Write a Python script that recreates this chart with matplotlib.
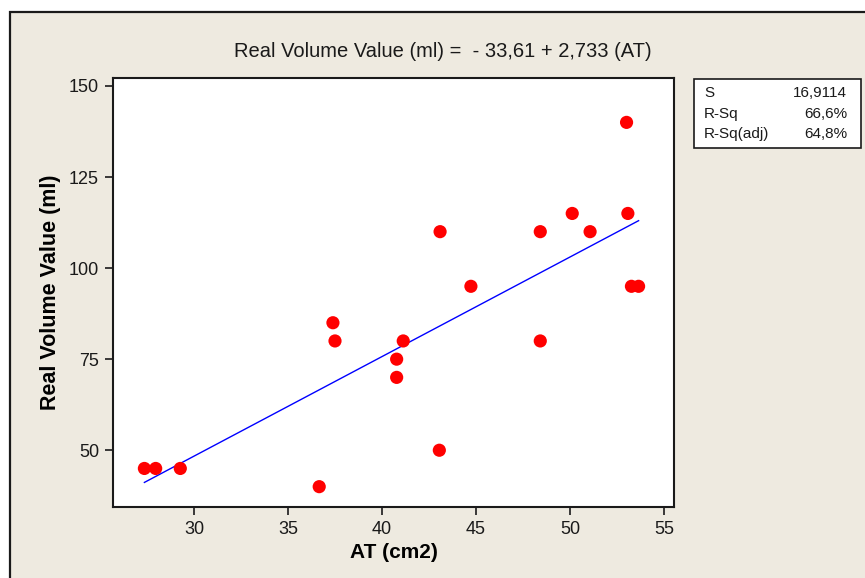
import matplotlib.pyplot as plt
from matplotlib.patches import Rectangle

plt.rcParams['font.family'] = ['Liberation Sans', 'DejaVu Sans']

# Measured area (cm2) and real volume (ml)
at_cm2 = [27.36, 27.96, 29.27, 36.66, 37.39, 37.50, 41.13, 40.78, 40.78, 43.05,
          43.09, 44.73, 48.42, 48.42, 50.12, 51.07, 53.01, 53.08, 53.27, 53.65]
volume_ml = [45, 45, 45, 40, 85, 80, 80, 75, 70, 50,
             110, 95, 110, 80, 115, 110, 140, 115, 95, 95]

# Fitted regression line and summary statistics
intercept = -33.61
slope = 2.733
stat_names = ['S', 'R-Sq', 'R-Sq(adj)']
stat_values = ['16,9114', '66,6%', '64,8%']

x_ticks = [30, 35, 40, 45, 50, 55]
y_ticks = [50, 75, 100, 125, 150]

W, H = 865, 578
fig = plt.figure(figsize=(W / 100, H / 100), dpi=100)
fig.patch.set_facecolor('white')

# Beige panel with a dark frame on the top and left
fig.patches.append(Rectangle((10 / W, -0.1), 1.2, 1.1 - 12.5 / H, transform=fig.transFigure,
                             facecolor='#eeeae0', edgecolor='#1a1a1a', linewidth=1.6,
                             zorder=0))

ax = fig.add_axes([113 / W, 1 - 506.7 / H, (674.3 - 113) / W, (506.7 - 78.3) / H])
ax.set_zorder(2)
ax.set_facecolor('white')

x_line = [min(at_cm2), max(at_cm2)]
y_line = [intercept + slope * x for x in x_line]
ax.plot(x_line, y_line, color='#0000ff', linewidth=1.0, zorder=2)
ax.scatter(at_cm2, volume_ml, s=90, color='#ff0000', edgecolors='none', zorder=3)

ax.set_xlim(25.69, 55.55)
ax.set_ylim(34.5, 152.1)
ax.set_xticks(x_ticks)
ax.set_yticks(y_ticks)
ax.tick_params(direction='out', length=6, width=1.2, labelsize=13, colors='#1a1a1a', pad=4)
for sp in ax.spines.values():
    sp.set_linewidth(1.5)
    sp.set_color('#1a1a1a')

ax.set_xlabel('AT (cm2)', fontsize=15, fontweight='bold', labelpad=4)
ax.set_ylabel('Real Volume Value (ml)', fontsize=15.5, fontweight='bold', labelpad=6)

fig.text(442.5 / W, 1 - 51.5 / H, 'Real Volume Value (ml) =  - 33,61 + 2,733 (AT)',
         ha='center', va='center', fontsize=14.5, color='#1a1a1a', zorder=3)

# Summary statistics box
fig.patches.append(Rectangle((694 / W, 1 - 147.7 / H), (860.7 - 694) / W, (147.7 - 79) / H,
                             transform=fig.transFigure, facecolor='white',
                             edgecolor='#1a1a1a', linewidth=1.2, zorder=1))
for i, (name, val) in enumerate(zip(stat_names, stat_values)):
    y = 1 - (93.3 + 20.4 * i) / H
    fig.text(704 / W, y, name, ha='left', va='center', fontsize=11, color='#1a1a1a', zorder=3)
    fig.text(847 / W, y, val, ha='right', va='center', fontsize=11, color='#1a1a1a', zorder=3)

fig.savefig('out.png', dpi=100)
